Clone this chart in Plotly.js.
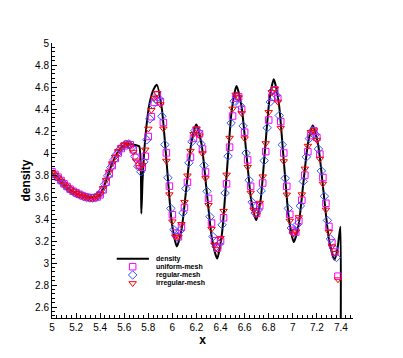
<!DOCTYPE html>
<html>
<head>
<meta charset="utf-8">
<script src="https://cdn.plot.ly/plotly-3.0.1.min.js"></script>
<style>
  html, body { margin: 0; padding: 0; background: #fff; }
  #chart { width: 403px; height: 358px; }
</style>
</head>
<body>
<div id="chart"></div>
<script>
// exact density profile (solid line)
const lineX = [5.00, 5.05, 5.10, 5.15, 5.20, 5.25, 5.30, 5.33, 5.37, 5.40, 5.43, 5.46, 5.50, 5.54, 5.58, 5.62, 5.66, 5.70, 5.725,
    5.742, 5.752, 5.765, 5.785, 5.81, 5.84, 5.87, 5.912, 5.954, 5.995, 6.037, 6.077, 6.118, 6.158, 6.198, 6.242, 6.285, 6.329,
    6.372, 6.412, 6.452, 6.492, 6.532, 6.573, 6.614, 6.655, 6.696, 6.733, 6.769, 6.806, 6.842, 6.884, 6.925, 6.967, 7.008,
    7.048, 7.087, 7.127, 7.166, 7.211, 7.256, 7.301, 7.346, 7.370, 7.385, 7.396, 7.398, 7.40];
const lineY = [3.82, 3.775, 3.715, 3.668, 3.635, 3.61, 3.593, 3.59, 3.60, 3.628, 3.69, 3.785, 3.905, 3.995, 4.055, 4.085, 4.08, 4.07, 4.06,
    3.45, 3.75, 4.0, 4.25, 4.45, 4.57, 4.62, 4.405, 3.885, 3.365, 3.15, 3.312, 3.705, 4.098, 4.26, 4.082, 3.65, 3.218,
    3.04, 3.269, 3.825, 4.381, 4.61, 4.432, 4.0, 3.568, 3.39, 3.577, 4.03, 4.483, 4.67, 4.454, 3.93, 3.406, 3.19,
    3.345, 3.72, 4.095, 4.25, 4.072, 3.64, 3.208, 3.03, 3.12, 3.25, 3.33, 2.2, 1.6];

// cell centres shared by uniform-mesh and irregular-mesh results
const meshX = [5.000, 5.025, 5.050, 5.075, 5.100, 5.125, 5.150, 5.175, 5.200, 5.225, 5.250, 5.275, 5.300, 5.325, 5.350, 5.375,
    5.400, 5.425, 5.450, 5.475, 5.500, 5.525, 5.550, 5.575, 5.600, 5.625, 5.650, 5.675, 5.700, 5.725, 5.750, 5.775,
    5.800, 5.825, 5.850, 5.875, 5.900, 5.925, 5.950, 5.975, 6.000, 6.025, 6.050, 6.075, 6.100, 6.125, 6.150, 6.175,
    6.200, 6.225, 6.250, 6.275, 6.300, 6.325, 6.350, 6.375, 6.400, 6.425, 6.450, 6.475, 6.500, 6.525, 6.550, 6.575,
    6.600, 6.625, 6.650, 6.675, 6.700, 6.725, 6.750, 6.775, 6.800, 6.825, 6.850, 6.875, 6.900, 6.925, 6.950, 6.975,
    7.000, 7.025, 7.050, 7.075, 7.100, 7.125, 7.150, 7.175, 7.200, 7.225, 7.250, 7.275, 7.300, 7.325, 7.350, 7.375];
const uniformY = [3.83, 3.805, 3.78, 3.75, 3.72, 3.695, 3.672, 3.653, 3.638, 3.625, 3.613, 3.603, 3.596, 3.592, 3.593, 3.600,
    3.620, 3.665, 3.735, 3.81, 3.885, 3.95, 4.00, 4.04, 4.065, 4.08, 4.075, 4.03, 3.96, 3.89, 3.87, 3.97,
    4.15, 4.33, 4.46, 4.53, 4.467, 4.277, 4.001, 3.699, 3.439, 3.273, 3.238, 3.324, 3.504, 3.734, 3.962, 4.133,
    4.208, 4.174, 4.036, 3.827, 3.587, 3.363, 3.202, 3.135, 3.201, 3.411, 3.72, 4.053, 4.336, 4.497, 4.511, 4.397,
    4.189, 3.937, 3.697, 3.521, 3.451, 3.52, 3.727, 4.013, 4.30, 4.507, 4.575, 4.495, 4.286, 4.0, 3.697, 3.442,
    3.296, 3.281, 3.382, 3.571, 3.799, 4.012, 4.158, 4.201, 4.14, 3.99, 3.777, 3.543, 3.332, 3.183, 3.10, 2.88];
const irregularY = [3.82, 3.80, 3.775, 3.745, 3.715, 3.69, 3.668, 3.65, 3.635, 3.622, 3.61, 3.60, 3.593, 3.59, 3.592, 3.603,
    3.628, 3.68, 3.755, 3.83, 3.905, 3.965, 4.015, 4.05, 4.073, 4.085, 4.065, 4.01, 3.93, 3.87, 3.89, 4.03,
    4.22, 4.39, 4.50, 4.542, 4.442, 4.221, 3.928, 3.623, 3.377, 3.239, 3.238, 3.353, 3.554, 3.794, 4.018, 4.171,
    4.221, 4.158, 3.996, 3.77, 3.526, 3.309, 3.166, 3.124, 3.227, 3.472, 3.802, 4.137, 4.402, 4.529, 4.505, 4.361,
    4.132, 3.872, 3.638, 3.482, 3.44, 3.546, 3.786, 4.088, 4.371, 4.552, 4.582, 4.465, 4.227, 3.924, 3.621, 3.383,
    3.266, 3.285, 3.415, 3.623, 3.857, 4.064, 4.189, 4.205, 4.118, 3.946, 3.72, 3.484, 3.281, 3.15, 3.09, 2.85];

// regular-mesh result
const regularX = [5.0125, 5.0375, 5.0625, 5.0875, 5.1125, 5.1375, 5.1625, 5.1875, 5.2125, 5.2375, 5.2625, 5.2875, 5.3125, 5.3375,
    5.3625, 5.3875, 5.4125, 5.4375, 5.4625, 5.4875, 5.5125, 5.5375, 5.5625, 5.5875, 5.6125, 5.6375, 5.6625, 5.6875,
    5.7125, 5.7375, 5.7625, 5.7875, 5.8125, 5.8375, 5.8625, 5.8875, 5.9125, 5.9375, 5.9625, 5.9875, 6.0125, 6.0375,
    6.0625, 6.0875, 6.1125, 6.1375, 6.1625, 6.1875, 6.2125, 6.2375, 6.2625, 6.2875, 6.3125, 6.3375, 6.3625, 6.3875,
    6.4125, 6.4375, 6.4625, 6.4875, 6.5125, 6.5375, 6.5625, 6.5875, 6.6125, 6.6375, 6.6625, 6.6875, 6.7125, 6.7375,
    6.7625, 6.7875, 6.8125, 6.8375, 6.8625, 6.8875, 6.9125, 6.9375, 6.9625, 6.9875, 7.0125, 7.0375, 7.0625, 7.0875,
    7.1125, 7.1375, 7.1625, 7.1875, 7.2125, 7.2375, 7.2625, 7.2875, 7.3125, 7.3375, 7.3625];
const regularY = [3.81, 3.788, 3.76, 3.73, 3.702, 3.679, 3.659, 3.642, 3.628, 3.616, 3.605, 3.596, 3.591, 3.59,
    3.596, 3.613, 3.65, 3.715, 3.792, 3.868, 3.937, 3.99, 4.033, 4.062, 4.08, 4.083, 4.05, 3.97,
    3.88, 3.83, 3.92, 4.12, 4.31, 4.44, 4.49, 4.495, 4.334, 4.076, 3.775, 3.496, 3.303, 3.236,
    3.293, 3.456, 3.677, 3.911, 4.103, 4.203, 4.194, 4.083, 3.887, 3.652, 3.421, 3.24, 3.147, 3.171,
    3.347, 3.636, 3.971, 4.272, 4.471, 4.517, 4.432, 4.246, 3.999, 3.753, 3.553, 3.454, 3.482, 3.656,
    3.931, 4.229, 4.464, 4.571, 4.525, 4.341, 4.075, 3.77, 3.496, 3.318, 3.273, 3.35, 3.519, 3.742,
    3.965, 4.132, 4.203, 4.168, 4.037, 3.837, 3.607, 3.387, 3.219, 3.136, 3.05];

const legendLabels = ["density", "uniform-mesh", "regular-mesh", "irregular-mesh"];
const legendSymbols = ["square-open", "diamond-open", "triangle-down-open"];
const seriesColors = ["#ff00ff", "#3355ff", "#ff0000"];

(function () {
    const FONT = "Liberation Sans, Arial, Helvetica, sans-serif";
    const el = (id) => document.getElementById(id);

    // legend rows, in plot-area fractions (hand-built: plotly rows are too tall here)
    const rowY = [0.2156, 0.1865, 0.1564, 0.1262];
    const keyX = 0.268;

    const markerTrace = (name, x, y, i) => ({
        type: "scatter", mode: "markers", name: name, x: x, y: y,
        marker: { symbol: legendSymbols[i], size: 6.5, color: seriesColors[i], line: { width: 1 } }
    });

    const traces = [
        { type: "scatter", mode: "lines", name: legendLabels[0], x: lineX, y: lineY,
          line: { color: "#000", width: 2, shape: "spline", smoothing: 0.6 } },
        markerTrace(legendLabels[1], meshX, uniformY, 0),
        markerTrace(legendLabels[2], regularX, regularY, 1),
        markerTrace(legendLabels[3], meshX, irregularY, 2),
        { type: "scatter", mode: "markers", xaxis: "x2", yaxis: "y2", hoverinfo: "skip",
          x: legendSymbols.map(() => keyX), y: rowY.slice(1),
          marker: { symbol: legendSymbols, size: 6.5, color: seriesColors, line: { width: 1 } } }
    ];

    const axisBase = {
        ticks: "inside", ticklen: 5, tickwidth: 1, tickcolor: "#000",
        showline: true, linecolor: "#000", linewidth: 1,
        showgrid: false, zeroline: false,
        tickfont: { family: FONT, size: 10, color: "#000" }
    };

    const annotations = legendLabels.map((label, i) => ({
        xref: "paper", yref: "paper", x: 0.34, y: rowY[i], xanchor: "left", yanchor: "middle",
        text: "<b>" + label + "</b>", showarrow: false, font: { family: FONT, size: 7, color: "#000" }
    }));

    const layout = {
        width: 403, height: 358,
        margin: { l: 52, r: 50, t: 43, b: 40 },
        paper_bgcolor: "#fff", plot_bgcolor: "#fff",
        font: { family: FONT, size: 10, color: "#000" },
        showlegend: false,
        xaxis: Object.assign({}, axisBase, {
            range: [5, 7.5], tick0: 5, dtick: 0.2,
            minor: { tick0: 5, dtick: 0.04, ticks: "inside", ticklen: 3, tickcolor: "#000", showgrid: false },
            title: { text: "<b>x</b>", font: { family: FONT, size: 12 }, standoff: 0 }
        }),
        yaxis: Object.assign({}, axisBase, {
            range: [2.5, 5], tick0: 2.6, dtick: 0.2,
            minor: { tick0: 2.6, dtick: 0.04, ticks: "inside", ticklen: 3, tickcolor: "#000", showgrid: false },
            title: { text: "<b>density</b>", font: { family: FONT, size: 12 }, standoff: 1 }
        }),
        xaxis2: { overlaying: "x", range: [0, 1], visible: false, fixedrange: true },
        yaxis2: { overlaying: "y", range: [0, 1], visible: false, fixedrange: true },
        shapes: [{ type: "line", xref: "paper", yref: "paper", x0: 0.215, x1: 0.322, y0: rowY[0], y1: rowY[0],
            line: { color: "#000", width: 2 } }],
        annotations: annotations
    };

    Plotly.newPlot(el("chart"), traces, layout, { displayModeBar: false, staticPlot: true });
})();
</script>
</body>
</html>
